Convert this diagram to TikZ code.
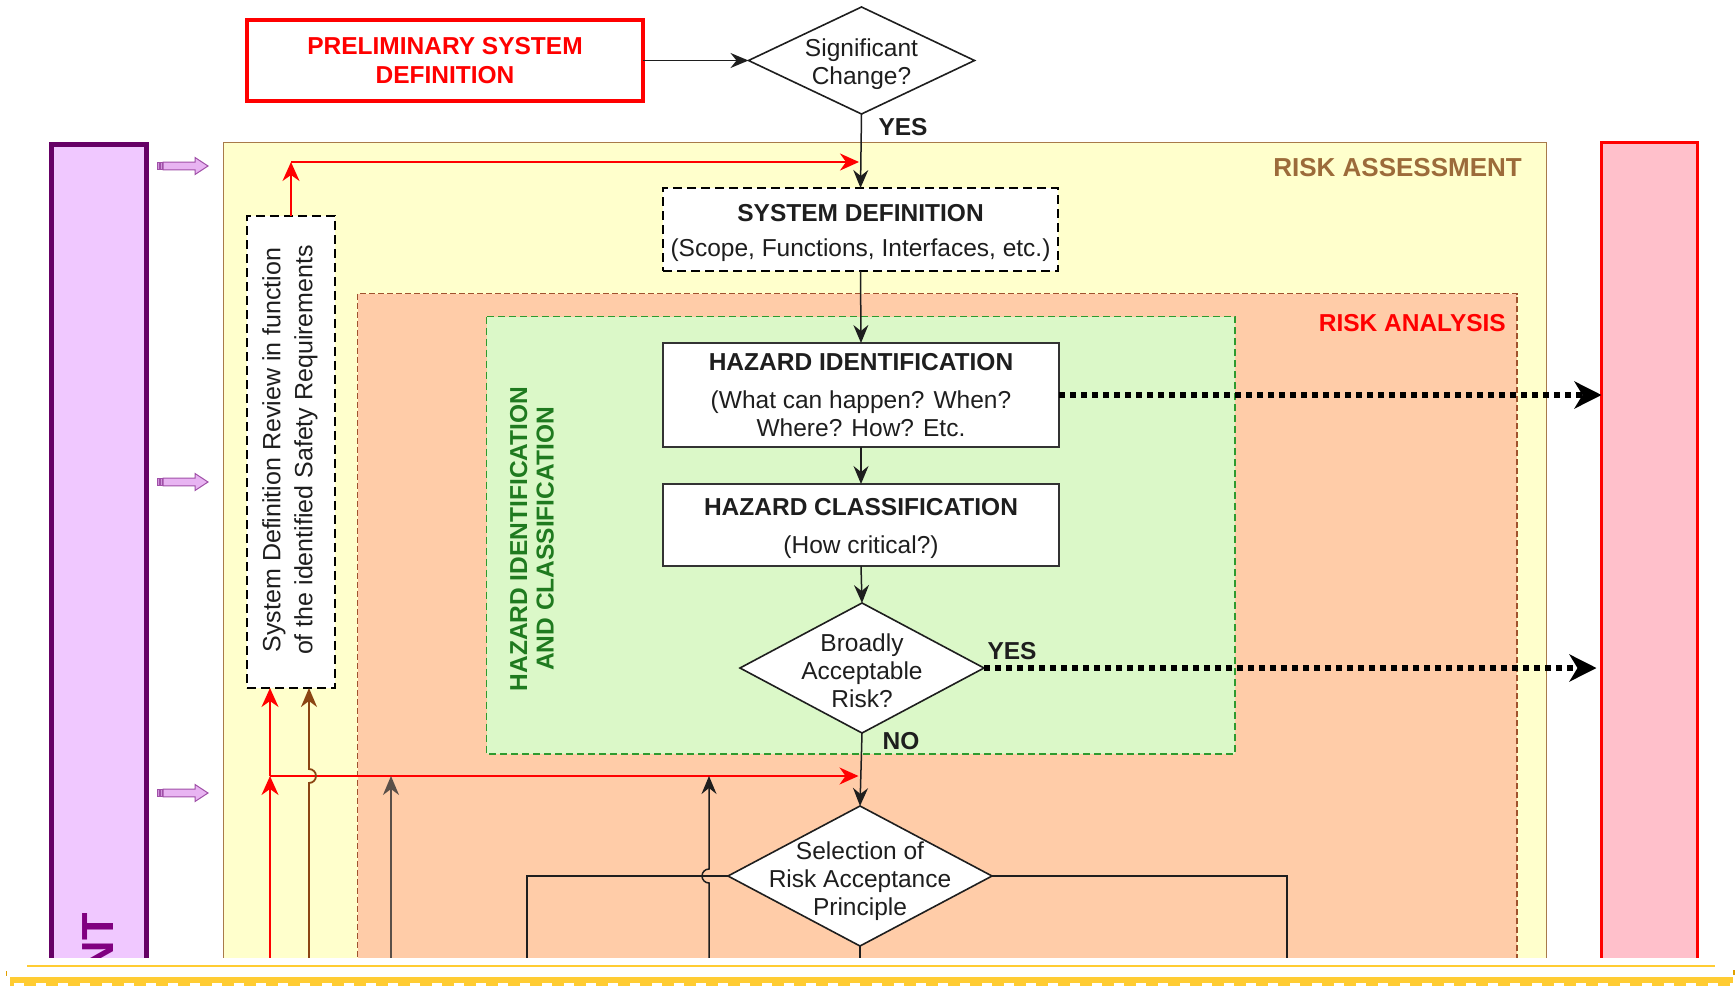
\documentclass[tikz,border=0pt]{standalone}
\usepackage{fontspec}
\setmainfont{Liberation Sans}
\usetikzlibrary{arrows.meta,shapes.geometric,calc}

\definecolor{ink}{HTML}{1E1E1E}
\definecolor{boxline}{HTML}{333333}
\definecolor{assessfill}{HTML}{FFFFCC}
\definecolor{assessline}{HTML}{A87A4A}
\definecolor{assesstext}{HTML}{9C6B3A}
\definecolor{analysisfill}{HTML}{FFCCA8}
\definecolor{analysisline}{HTML}{A0522D}
\definecolor{hazfill}{HTML}{DBF8C8}
\definecolor{hazline}{HTML}{2E9A2E}
\definecolor{haztext}{HTML}{1F7A1F}
\definecolor{mgmtfill}{HTML}{F0C8FF}
\definecolor{mgmtline}{HTML}{660066}
\definecolor{mgmttext}{HTML}{800080}
\definecolor{sidefill}{HTML}{FFC0CB}
\definecolor{sidearrowfill}{HTML}{E8B4F2}
\definecolor{sidearrowline}{HTML}{A050A8}
\definecolor{loopbrown}{HTML}{8B4513}
\definecolor{loopgrey}{HTML}{5A4F48}
\definecolor{pagegold}{HTML}{FFCC33}
\definecolor{pagetick}{HTML}{E0A000}

\tikzset{
  body/.style={font=\fontsize{24.5}{28}\selectfont, text=ink},
  boldtxt/.style={font=\bfseries\fontsize{24.5}{28}\selectfont, text=ink, inner sep=0pt},
  procbox/.style={draw=boxline, line width=1.8pt, fill=white, inner sep=0pt, outer sep=0pt,
    minimum width=396},
  dashbox/.style={draw=black, line width=2.8pt, dash pattern=on 9pt off 5pt, fill=white,
    inner sep=0pt, outer sep=0pt},
  boxtext/.style={body, align=center, inner sep=0pt},
  decision/.style={diamond, draw=ink, line width=1.6pt, fill=white, inner sep=0pt, outer sep=0pt},
  flow/.style={draw=ink, line width=1.5pt, -{Stealth[length=18pt,width=15pt,inset=6pt]}},
  plainflow/.style={draw=ink, line width=1.5pt},
  redflow/.style={draw=red, line width=1.8pt, -{Stealth[length=19pt,width=17pt,inset=6pt]}},
  brownflow/.style={draw=loopbrown, line width=1.8pt, -{Stealth[length=19pt,width=16pt,inset=6pt]}},
  greyflow/.style={draw=loopgrey, line width=1.5pt, -{Stealth[length=19pt,width=16pt,inset=6pt]}},
  dotflow/.style={draw=black, line width=5.5pt, dash pattern=on 5.5pt off 5.5pt,
    -{Stealth[length=27pt,width=27pt,inset=8pt]}},
  sidearrow/.pic={
    \draw[sidearrowline, line width=1pt, fill=sidearrowfill]
      (6,-3.8) -- (38,-3.8) -- (38,-8.5) -- (51,0) -- (38,8.5) -- (38,3.8) -- (6,3.8) -- cycle;
    \draw[sidearrowline, line width=1pt, fill=sidearrowfill!70!sidearrowline]
      (0.5,-3.8) rectangle (2.5,3.8) (3.5,-3.8) rectangle (5.5,3.8);
  }
}

\begin{document}
\begin{tikzpicture}[x=1pt,y=-1pt]
\useasboundingbox (0,0) rectangle (1736,985);
\fill[white] (0,0) rectangle (1736,985);

% ---------------- framed page area ----------------
\begin{scope}
\clip (0,0) rectangle (1736,957);

% management bar (left) and side bar (right)
\node[draw=mgmtline, line width=5pt, fill=mgmtfill, minimum width=95, minimum height=866,
      inner sep=0pt, outer sep=0pt] (mgmt) at (99,577.5) {};
\node[font=\bfseries\fontsize{45}{45}\selectfont, text=mgmttext, rotate=90, inner sep=0pt,
      anchor=base east] (mgmttitle) at (113.5,913) {NT};
\node[draw=red, line width=3pt, fill=sidefill, minimum width=96, minimum height=868,
      inner sep=0pt, outer sep=0pt] (pinkbar) at (1649.5,576.5) {};

% input arrows from the management bar
\pic at (157,166) {sidearrow};
\pic at (157,482) {sidearrow};
\pic at (157,793) {sidearrow};

% nested process regions
\draw[assessline, line width=1.2pt, fill=assessfill] (223.5,142.5) rectangle (1546.5,1010);
\draw[analysisline, line width=1.2pt, dash pattern=on 6pt off 3pt, fill=analysisfill]
  (357.5,293.5) rectangle (1517,1010);
\draw[hazline, line width=1.4pt, dash pattern=on 7pt off 4pt, fill=hazfill]
  (486.5,316.5) rectangle (1235,754);

\node[font=\bfseries\fontsize{26}{28}\selectfont, text=assesstext, anchor=east, inner sep=0pt]
  (assesstitle) at (1522,168) {RISK ASSESSMENT};
\node[font=\bfseries\fontsize{24.5}{28}\selectfont, text=red, anchor=east, inner sep=0pt]
  (analysistitle) at (1506,323) {RISK ANALYSIS};
\node[font=\bfseries\fontsize{24.5}{26.5}\selectfont, text=haztext, rotate=90, align=center,
      inner sep=0pt] (haztitle) at (532,539) {HAZARD IDENTIFICATION\\AND CLASSIFICATION};

% process steps
\node[dashbox, minimum width=395, minimum height=83] (sysdef) at (860.5,229.5) {};
\node[boxtext] (sysdeftext) at (860.5,233)
  {\textbf{SYSTEM DEFINITION}\\[7pt](Scope, Functions, Interfaces, etc.)};
\node[procbox, minimum height=104] (hazid) at (861,395) {};
\node[boxtext] (hazidtext) at (861,395)
  {\textbf{HAZARD IDENTIFICATION}\\[10pt](What can happen? When?\\Where? How? Etc.};
\node[procbox, minimum height=82] (hazcl) at (861,525) {};
\node[boxtext] (hazcltext) at (861,528)
  {\textbf{HAZARD CLASSIFICATION}\\[10pt](How critical?)};
\node[decision, minimum width=244, minimum height=130] (bd) at (862,668) {};
\node[boxtext] (bdtext) at (862,671) {Broadly\\Acceptable\\Risk?};
\node[decision, minimum width=264, minimum height=140] (sel) at (860,876) {};
\node[boxtext] (seltext) at (860,881.5) {Selection of\\Risk Acceptance\\Principle};

% system definition review
\node[dashbox, minimum width=88, minimum height=472] (review) at (291,452) {};
\node[font=\fontsize{25}{32}\selectfont, text=ink, rotate=90, align=center, inner sep=0pt]
  (reviewtext) at (290,450) {System Definition Review in function\\of the identified Safety Requirements};

% free ends of the feedback lines leaving the page
\coordinate (redfoot) at (270,962);
\coordinate (brownfoot) at (309,962);
\coordinate (greyfoot) at (391,962);
\coordinate (blackfoot) at (709,962);
\coordinate (selleftfoot) at (527,962);
\coordinate (selrightfoot) at (1287,962);
\coordinate (redjoin) at (270,776);
\coordinate (redtop) at (291,162);

% main flow
\draw[flow] (sysdef.south) -- (hazid.north);
\draw[flow] (hazid.south) -- (hazcl.north);
\draw[flow] (hazcl.south) -- (bd.north);
\draw[flow] (bd.south) -- (sel.north);
\node[boldtxt] (no1) at (901,741) {NO};
\node[boldtxt] (yes2) at (1012,651) {YES};

% links to the side bar
\draw[dotflow] (hazid.east) -- (hazid.east -| pinkbar.west);
\draw[dotflow, shorten >=5pt] (bd.east) -- (bd.east -| pinkbar.west);

% review loop (top)
\draw[redflow] (review.north) -- (redtop);
\draw[redflow, shorten >=1.5pt] (redtop) -- (redtop -| sysdef.north);

% review loop (bottom)
\draw[redflow] (redfoot) -- (redjoin);
\draw[redflow] (redjoin) -- (redjoin |- review.south);
\draw[redflow, shorten >=1.5pt] (redjoin) -- (redjoin -| sel.north);
\draw[brownflow] (brownfoot) -- ($(brownfoot |- redjoin)+(0,7)$)
  arc[start angle=90, end angle=-90, radius=7] -- (brownfoot |- review.south);
\draw[greyflow] (greyfoot) -- (greyfoot |- redjoin);
\draw[flow] (blackfoot) -- ($(blackfoot |- sel.west)+(0,7)$)
  arc[start angle=90, end angle=270, radius=7] -- (blackfoot |- redjoin);

% outputs of the acceptance principle selection
\draw[plainflow] (sel.west) -- (sel.west -| selleftfoot) -- (selleftfoot);
\draw[plainflow] (sel.east) -| (selrightfoot);
\draw[plainflow] (sel.south) -- (sel.south |- selrightfoot);
\end{scope}

% ---------------- entry above the framed area ----------------
\node[draw=red, line width=4pt, fill=white, text=red, font=\bfseries\fontsize{24.5}{29}\selectfont,
      align=center, inner sep=0pt, outer sep=0pt, minimum width=396, minimum height=81]
  (prelim) at (445,60.5) {PRELIMINARY SYSTEM\\DEFINITION};
\node[decision, minimum width=226, minimum height=107] (sig) at (861.5,60.5) {};
\node[boxtext] (sigtext) at (861.5,64.5) {Significant\\Change?};
\draw[flow] (prelim.east) -- (sig.west);
\draw[flow] (sig.south) -- (sysdef.north);
\node[boldtxt] (yes1) at (903,127) {YES};

% ---------------- page edge below ----------------
\draw[pagegold, line width=2.5pt] (27,966) -- (1715,966);
\fill[pagegold] (10,977) rectangle (1733,986);
\draw[white, line width=3.5pt, dash pattern=on 10pt off 12pt] (14,985) -- (1733,985);
\draw[pagetick, line width=1.5pt] (6.5,971) -- (6.5,976);
\draw[pagetick, line width=1.5pt] (1734,970) -- (1734,975);
\end{tikzpicture}
\end{document}
